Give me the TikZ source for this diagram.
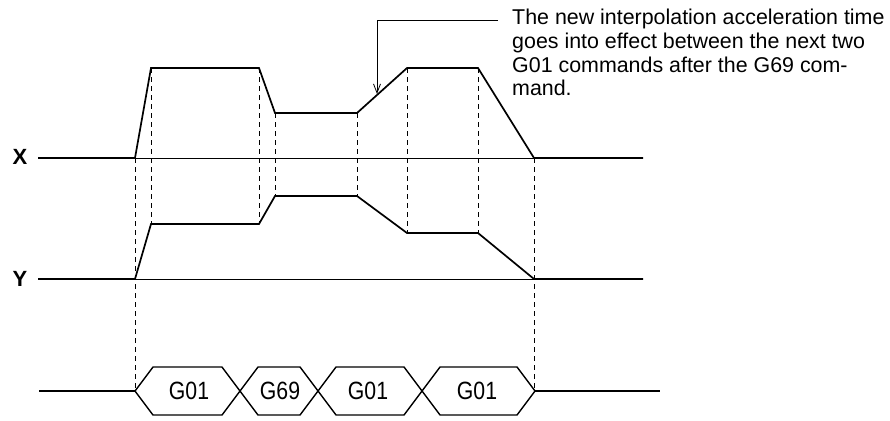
\documentclass[tikz,border=0pt]{standalone}
\usepackage{fontspec}
\setmainfont{Liberation Sans}
\newfontfamily\narrowsf[FakeStretch=0.85]{Liberation Sans}
\usetikzlibrary{arrows.meta}
\begin{document}
\begin{tikzpicture}[x=1pt,y=-1pt,
  sig/.style={line width=1.7pt, line join=miter},
  baseln/.style={line width=0.9pt},
  guide/.style={line width=0.8pt, dash pattern=on 5pt off 4pt},
  hexbox/.style={line width=1.4pt, line join=miter},
  lbl/.style={font=\fontsize{22}{24}\selectfont\bfseries, inner sep=0},
  cmd/.style={font=\narrowsf\fontsize{25}{27}\selectfont, inner sep=0},
  note/.style={font=\fontsize{21.4}{24}\selectfont, inner sep=0, anchor=base west},
  leader/.style={line width=0.8pt, -{Straight Barb[length=9pt,width=7pt]}}
  ]
\useasboundingbox (0,0) rectangle (890,420);

% axis labels
\node[lbl] (xl) at (20,157) {X};
\node[lbl] (yl) at (20,279) {Y};

% base lines
\draw[baseln] (38,158) -- (643,158);
\draw[baseln] (38,279) -- (643,279);

% signals
\draw[sig] (38,158) -- (135,158) -- (151,68) -- (259,68) -- (275,113) -- (357,113)
  -- (407,68) -- (478,68) -- (534,158) -- (643,158);
\draw[sig] (38,279) -- (135,279) -- (151,224) -- (259,224) -- (275,196) -- (357,196)
  -- (407,233) -- (478,233) -- (534,279) -- (643,279);

% dashed guides
\draw[guide] (135,158) -- (135,391);
\draw[guide] (151,68) -- (151,224);
\draw[guide] (259,68) -- (259,224);
\draw[guide] (275,113) -- (275,196);
\draw[guide] (357,113) -- (357,196);
\draw[guide] (407,68) -- (407,233);
\draw[guide] (478,68) -- (478,233);
\draw[guide] (534,158) -- (534,391);

% command bus
\draw[sig] (39,391) -- (135,391);
\draw[sig] (535,391) -- (660,391);
\draw[hexbox] (135,391) -- (153,367) -- (222,367) -- (240,391) -- (222,415) -- (153,415) -- cycle;
\draw[hexbox] (240,391) -- (258,367) -- (300,367) -- (318,391) -- (300,415) -- (258,415) -- cycle;
\draw[hexbox] (318,391) -- (336,367) -- (404,367) -- (422,391) -- (404,415) -- (336,415) -- cycle;
\draw[hexbox] (422,391) -- (440,367) -- (517,367) -- (535,391) -- (517,415) -- (440,415) -- cycle;
\node[cmd] (c1) at (189,391) {G01};
\node[cmd] (c2) at (280,391) {G69};
\node[cmd] (c3) at (368,391) {G01};
\node[cmd] (c4) at (477,391) {G01};

% note
\node[note] (n1) at (512,25) {The new interpolation acceleration time};
\node[note] (n2) at (512,48.5) {goes into effect between the next two};
\node[note] (n3) at (512,72) {G01 commands after the G69 com-};
\node[note] (n4) at (512,95.5) {mand.};
\coordinate (ls) at (498,20);
\coordinate (lc) at (377,20);
\coordinate (lt) at (377,94);
\draw[leader] (ls) -- (lc) -- (lt);
\end{tikzpicture}
\end{document}
